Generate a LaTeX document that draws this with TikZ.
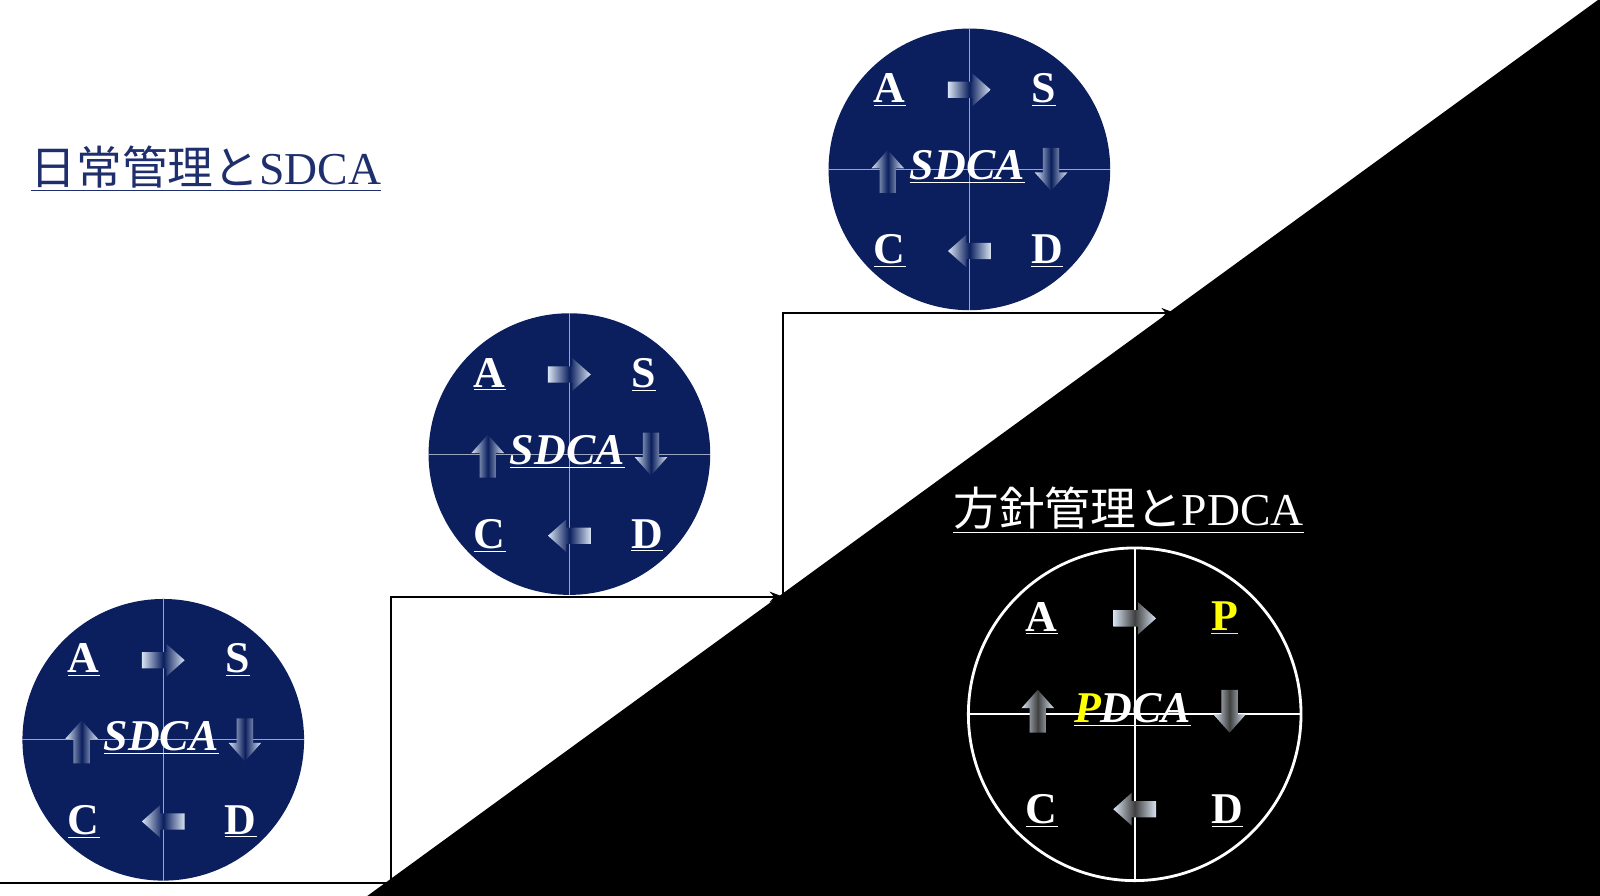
\documentclass[tikz,border=0pt]{standalone}
\usepackage{fontspec}
\setmainfont{Liberation Serif}
\newfontfamily\cjk{Noto Sans CJK JP}
\usetikzlibrary{arrows.meta}
\definecolor{navy}{HTML}{0B1F5E}
\definecolor{ttl}{HTML}{1F2F6E}
\definecolor{lite}{HTML}{D8E4F2}
\definecolor{pyel}{HTML}{FFFF00}
\tikzset{
  lt/.style={text=white,font=\fontsize{25}{28}\selectfont\bfseries,inner sep=0pt},
  ct/.style={text=white,font=\fontsize{25}{28}\selectfont\bfseries\itshape,inner sep=0pt},
  stepline/.style={line width=1.2pt,-{Stealth[length=8pt,width=6pt]}},
}
\newcommand\sarr[4]{% angle, x, y, dark colour
  \begin{scope}[shift={(#2,#3)},rotate=#1]
  \shade[left color=lite,right color=lite,middle color=#4]
    (-21,-8)--(3,-8)--(3,-16)--(21,0)--(3,16)--(3,8)--(-21,8)--cycle;
  \end{scope}}
\begin{document}
\begin{tikzpicture}[x=0.02041cm,y=-0.02041cm]
\useasboundingbox (0,0) rectangle (1568,878);
\fill[white] (0,0) rectangle (1568,878);
% black triangle
\fill[black] (1566,0)--(1568,0)--(1568,878)--(360,878)--cycle;
% steps
\coordinate (s0) at (0,865);
\coordinate (s1) at (383,865);
\coordinate (s2) at (383,585);
\coordinate (s3) at (768,585);
\coordinate (s4) at (767,585);
\coordinate (s5) at (767,307);
\coordinate (s6) at (1152,307);
\draw[stepline] (s0)--(s1)--(s2)--(s3);
\draw[stepline] (s4)--(s5)--(s6);
% SDCA circles
\foreach \n/\cx/\cy in {c1/160/725,c2/558/445,c3/950/166}{
  \fill[navy] (\cx,\cy) circle (138);
  \draw[white!60!navy,line width=0.5pt] (\cx-138,\cy)--(\cx+138,\cy) (\cx,\cy-138)--(\cx,\cy+138);
  \node[lt] (\n A) at (\cx-78,\cy-78) {\underline{A}};
  \node[lt] (\n S) at (\cx+73,\cy-78) {\underline{S}};
  \node[lt] (\n C) at (\cx-78,\cy+80) {\underline{C}};
  \node[lt] (\n D) at (\cx+76,\cy+80) {\underline{D}};
  \node[ct] (\n M) at (\cx-2,\cy-2) {\underline{SDCA}};
  \sarr{0}{\cx}{\cy-78}{navy}
  \sarr{180}{\cx}{\cy+80}{navy}
  \sarr{90}{\cx-80}{\cy+2}{navy}
  \sarr{-90}{\cx+80}{\cy}{navy}
}
% PDCA circle
\draw[white,line width=1.6pt] (1112,700) circle (163);
\draw[white,line width=1.3pt] (949,700)--(1275,700) (1112,537)--(1112,863);
\node[lt] (pA) at (1021,606) {\underline{A}};
\node[lt] (pP) at (1200,606) {\color{pyel}\underline{P}};
\node[lt] (pC) at (1021,795) {\underline{C}};
\node[lt] (pD) at (1203,795) {\underline{D}};
\node[ct] (pM) at (1110,696) {\underline{\color{pyel}P}\underline{DCA}};
\sarr{0}{1112}{606}{black!75}
\sarr{180}{1112}{793}{black!75}
\sarr{90}{1017}{697}{black!75}
\sarr{-90}{1205}{697}{black!75}
% titles
\node[text=ttl,font=\fontsize{26}{29}\selectfont,inner sep=0pt,anchor=west] (t1) at (30,165) {\underline{{\cjk 日常管理と}SDCA}};
\node[text=white,font=\fontsize{26}{29}\selectfont,inner sep=0pt,anchor=west] (t2) at (934,500) {\underline{{\cjk 方針管理と}PDCA}};
\end{tikzpicture}
\end{document}
